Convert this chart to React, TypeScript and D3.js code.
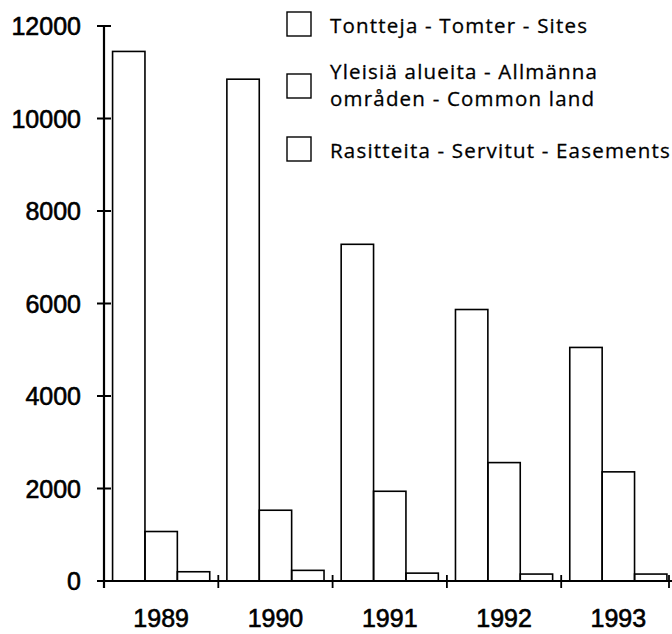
import React from "react";
import * as d3 from "d3";

const years = ["1989", "1990", "1991", "1992", "1993"];
const seriesNames = [
  "Tontteja - Tomter - Sites",
  "Yleisiä alueita - Allmänna|områden - Common land",
  "Rasitteita - Servitut - Easements",
];
const sites = [11450, 10850, 7280, 5870, 5050];
const commonLand = [1070, 1530, 1940, 2560, 2360];
const easements = [200, 230, 170, 150, 150];
const yTicks = [0, 2000, 4000, 6000, 8000, 10000, 12000];

const W = 672;
const H = 634;

export default function App() {
  const x0 = 104;
  const step = 114.3;
  const x = d3
    .scaleBand<string>()
    .domain(years)
    .range([x0, x0 + step * years.length])
    .paddingInner(0.15)
    .paddingOuter(0.075);
  const y = d3.scaleLinear().domain([0, 12000]).range([581, 26]);
  const series = [sites, commonLand, easements];
  const xs = d3
    .scaleBand<number>()
    .domain([0, 1, 2])
    .range([0, x.bandwidth()]);
  const axisEnd = 669;
  const boundaries = years.map((_, i) => Math.min(x0 + (i + 1) * step, axisEnd));
  const numFont = "'Liberation Sans', Arial, sans-serif";
  const legFont = "'Open Sans', Lato, sans-serif";
  const legend = [
    { y: 12, lines: seriesNames[0].split("|"), base: 33 },
    { y: 74, lines: seriesNames[1].split("|"), base: 79 },
    { y: 137, lines: seriesNames[2].split("|"), base: 158 },
  ];
  return (
    <svg
      width={W}
      height={H}
      style={{ position: "absolute", left: 0, top: 0, background: "#fff" }}
    >
      <rect x={0} y={0} width={W} height={H} fill="#fff" />
      {years.map((yr, i) => (
        <g key={yr}>
          {series.map((s, j) => (
            <rect
              key={j}
              x={(x(yr) as number) + (xs(j) as number)}
              y={y(s[i])}
              width={xs.bandwidth()}
              height={y(0) - y(s[i])}
              fill="none"
              stroke="#000"
              strokeWidth={1.6}
            />
          ))}
        </g>
      ))}
      <line x1={x0} x2={x0} y1={y(12000)} y2={y(0) + 7} stroke="#000" strokeWidth={2.2} />
      {yTicks.map((t) => (
        <g key={t}>
          <line x1={97} x2={111} y1={y(t)} y2={y(t)} stroke="#000" strokeWidth={2} />
          <text
            x={81}
            y={y(t) + 9}
            textAnchor="end"
            fontFamily={numFont}
            fontSize={25}
            fill="#000"
            stroke="#000"
            strokeWidth={0.6}
          >
            {t}
          </text>
        </g>
      ))}
      <line x1={x0} x2={axisEnd + 3} y1={y(0)} y2={y(0)} stroke="#000" strokeWidth={2} />
      {boundaries.map((b, i) => (
        <line key={i} x1={b} x2={b} y1={y(0) - 6} y2={y(0) + 7} stroke="#000" strokeWidth={1.8} />
      ))}
      {years.map((yr, i) => (
        <text
          key={yr}
          x={x0 + i * step + step / 2}
          y={627}
          textAnchor="middle"
          fontFamily={numFont}
          fontSize={25}
          fill="#000"
          stroke="#000"
          strokeWidth={0.6}
        >
          {yr}
        </text>
      ))}
      {legend.map((l, i) => (
        <g key={i}>
          <rect x={287} y={l.y} width={24} height={24} fill="#fff" stroke="#000" strokeWidth={1.4} />
          {l.lines.map((ln, k) => (
            <text
              key={k}
              x={330}
              y={l.base + k * 27}
              fontFamily={legFont}
              fontSize={20.5}
              letterSpacing={1.2}
              fill="#000"
              stroke="#000"
              strokeWidth={0.3}
            >
              {ln}
            </text>
          ))}
        </g>
      ))}
    </svg>
  );
}
